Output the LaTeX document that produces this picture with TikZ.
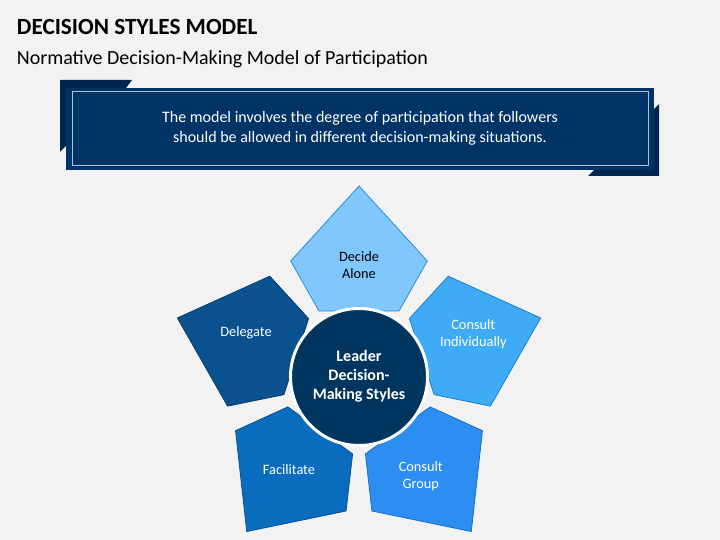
\documentclass[tikz,border=0pt]{standalone}
\usepackage{fontspec}
\setmainfont{Carlito}
\definecolor{bg}{HTML}{F2F2F2}
\definecolor{banner}{HTML}{003366}
\definecolor{bannerdark}{HTML}{00264D}
\definecolor{bannerline}{HTML}{B4C0D0}
\definecolor{cA}{HTML}{80C7FD}
\definecolor{cAb}{HTML}{2A8AE0}
\definecolor{cB}{HTML}{3FAAF5}
\definecolor{cBb}{HTML}{1E7FD0}
\definecolor{cC}{HTML}{2D8EF2}
\definecolor{cCb}{HTML}{1A6FC8}
\definecolor{cD}{HTML}{0A6CBE}
\definecolor{cDb}{HTML}{08508E}
\definecolor{cE}{HTML}{0A5190}
\definecolor{cEb}{HTML}{073B6A}
\definecolor{navy}{HTML}{00355F}
\tikzset{
  penta/.style={line width=0.8pt, line join=miter},
  ptext/.style={font=\fontsize{14.3}{17}\selectfont, text=white, align=center},
  ctext/.style={font=\fontsize{16}{19}\selectfont\bfseries, text=white, align=center},
  btext/.style={font=\fontsize{16}{20}\selectfont, text=white, align=center}
}
\begin{document}
\begin{tikzpicture}[x=1pt,y=-1pt]
\fill[bg] (0,0) rectangle (720,540);
\useasboundingbox (0,0) rectangle (720,540);
% title
\node[anchor=base west, inner sep=0, font=\fontsize{23.2}{28}\selectfont\bfseries] (title) at (16.7,34.5) {DECISION STYLES MODEL};
\node[anchor=base west, inner sep=0, font=\fontsize{20}{24}\selectfont] (subtitle) at (16.7,64.5) {Normative Decision-Making Model of Participation};
% banner
\fill[bannerdark] (60,80) -- (132,80) -- (126,88) -- (66,88) -- (66,146) -- (60,152) -- cycle;
\fill[bannerdark] (659,176) -- (588,176) -- (594,170) -- (654,170) -- (654,109) -- (659,104) -- cycle;
\fill[banner] (66,88) rectangle (654,170);
\draw[bannerline, line width=0.8pt] (72.3,91.7) rectangle (648.3,165.7);
\node[btext] (btxt) at (360,128) {The model involves the degree of participation that followers\\should be allowed in different decision-making situations.};
% pentagons
\foreach \k/\fc/\bc in {0/cA/cAb, 1/cB/cBb, 2/cC/cCb, 3/cD/cDb, 4/cE/cEb}{
  \begin{scope}[shift={(359,377)}, rotate=-72*\k]
    \draw[penta, fill=\fc, draw=\bc] (0,-191) -- (68.3,-116) -- (40,-66) -- (-40,-66) -- (-68.3,-116) -- cycle;
  \end{scope}
}
% centre circle
\draw[fill=navy, draw=white, line width=3pt] (359,377) circle[radius=68.5];
\node[ctext] (centre) at (359,376) {Leader\\Decision-\\Making Styles};
% labels
\node[ptext, text=black] (decide) at (359,265) {Decide\\Alone};
\node[ptext] (indiv) at (473.3,334) {Consult\\Individually};
\node[ptext] (group) at (420.7,475.7) {Consult\\Group};
\node[ptext] (facil) at (289,470) {Facilitate};
\node[ptext] (deleg) at (246,332.7) {Delegate};
\end{tikzpicture}
\end{document}
